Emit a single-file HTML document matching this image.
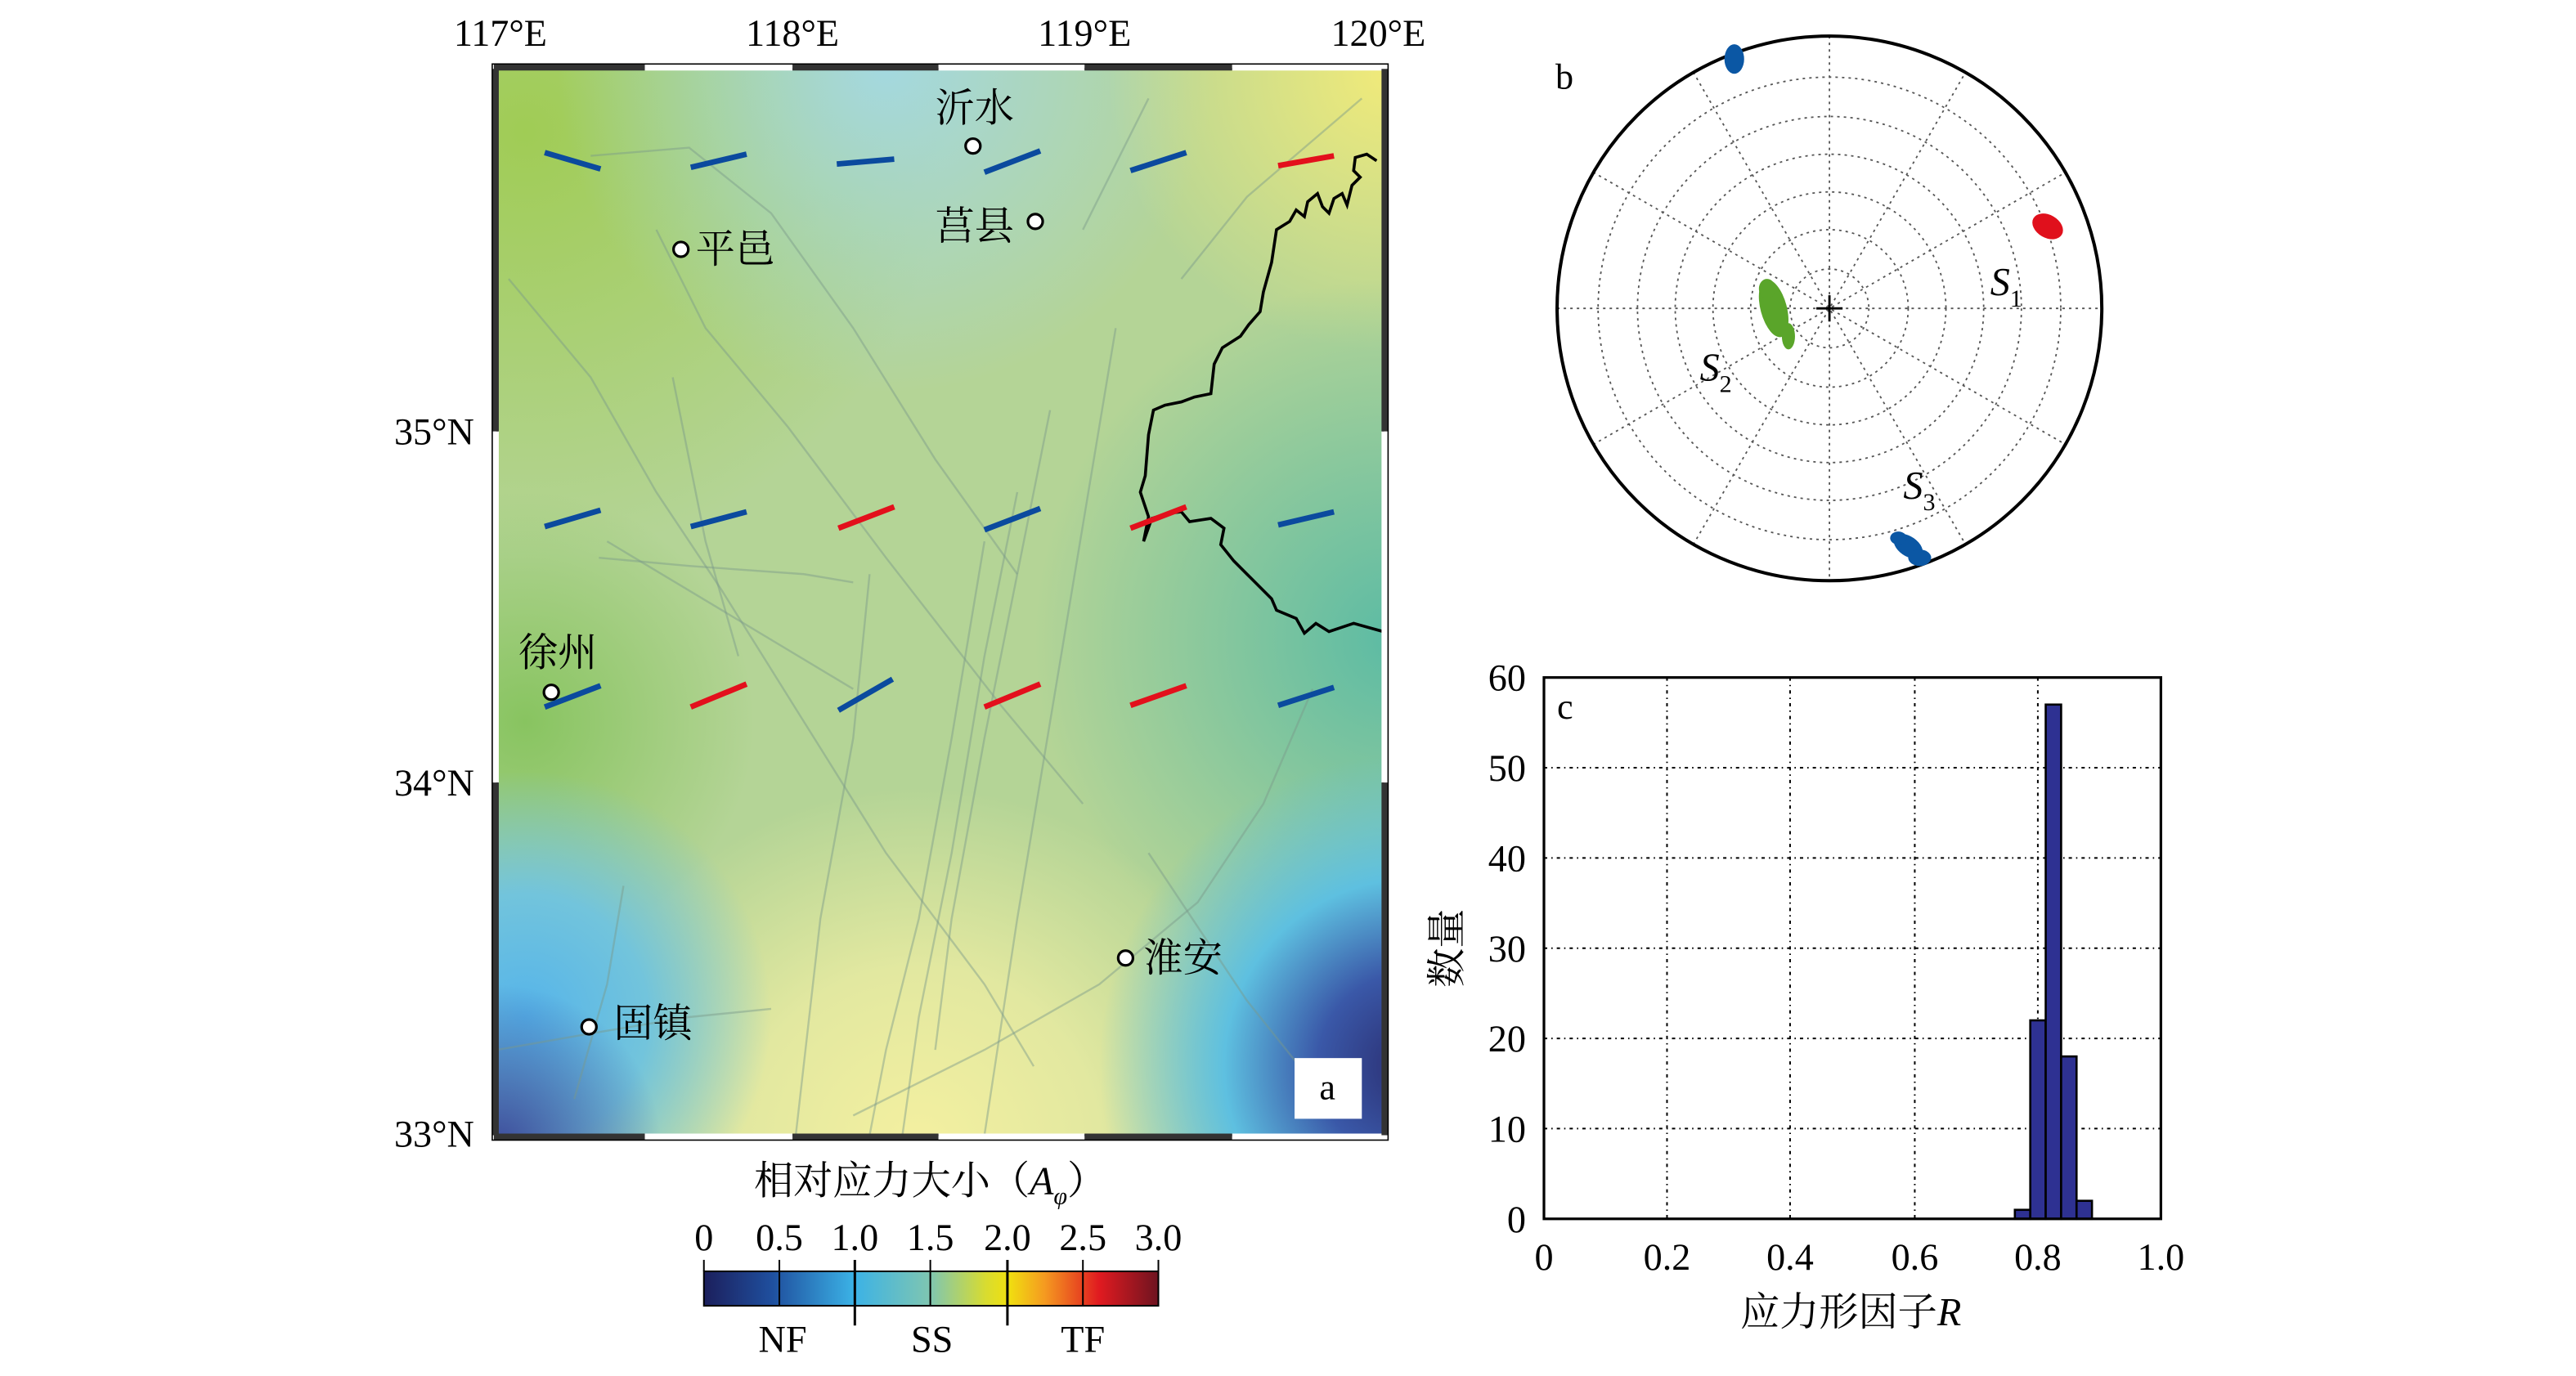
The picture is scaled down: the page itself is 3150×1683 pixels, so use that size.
<!DOCTYPE html>
<html><head><meta charset="utf-8"><style>
html,body{margin:0;padding:0;background:#fff;}
svg{display:block;}
text{font-family:"Liberation Serif","Noto Serif CJK SC","Noto Sans CJK SC",serif;fill:#000;}
</style></head><body>
<svg width="3150" height="1683" viewBox="0 0 1570 838.8" preserveAspectRatio="none" xmlns="http://www.w3.org/2000/svg">
<defs>
<clipPath id="mc"><rect x="303" y="42" width="540" height="650"/></clipPath>
<radialGradient id="g1" cx="320" cy="80" r="260" gradientUnits="userSpaceOnUse"><stop offset="0" stop-color="#a0cc55"/><stop offset="1" stop-color="#a0cc55" stop-opacity="0"/></radialGradient>
<radialGradient id="g2" cx="540" cy="40" r="200" gradientUnits="userSpaceOnUse"><stop offset="0" stop-color="#a4d8e0"/><stop offset="1" stop-color="#a4d8e0" stop-opacity="0"/></radialGradient>
<radialGradient id="g3" cx="845" cy="45" r="170" gradientUnits="userSpaceOnUse"><stop offset="0" stop-color="#f0ea7a"/><stop offset="1" stop-color="#f0ea7a" stop-opacity="0"/></radialGradient>
<radialGradient id="g4" cx="850" cy="390" r="220" gradientUnits="userSpaceOnUse"><stop offset="0" stop-color="#5cbba4"/><stop offset="1" stop-color="#5cbba4" stop-opacity="0"/></radialGradient>
<radialGradient id="g5" cx="860" cy="650" r="190" gradientUnits="userSpaceOnUse"><stop offset="0" stop-color="#2a2d70"/><stop offset="0.3" stop-color="#3a58a8"/><stop offset="0.6" stop-color="#5ec0e0"/><stop offset="1" stop-color="#5ec0e0" stop-opacity="0"/></radialGradient>
<radialGradient id="g6" cx="320" cy="620" r="150" gradientUnits="userSpaceOnUse"><stop offset="0" stop-color="#55b4ea"/><stop offset="0.5" stop-color="#72c4dc"/><stop offset="1" stop-color="#72c4dc" stop-opacity="0"/></radialGradient>
<radialGradient id="g7" cx="560" cy="700" r="220" gradientUnits="userSpaceOnUse"><stop offset="0" stop-color="#f4f0a0"/><stop offset="0.5" stop-color="#e2e8a0"/><stop offset="1" stop-color="#e2e8a0" stop-opacity="0"/></radialGradient>
<radialGradient id="g8" cx="303" cy="700" r="100" gradientUnits="userSpaceOnUse"><stop offset="0" stop-color="#3c4a9a"/><stop offset="1" stop-color="#3c4a9a" stop-opacity="0"/></radialGradient>
<radialGradient id="g9" cx="320" cy="440" r="140" gradientUnits="userSpaceOnUse"><stop offset="0" stop-color="#88c460"/><stop offset="1" stop-color="#88c460" stop-opacity="0"/></radialGradient>
<linearGradient id="cb" x1="0" x2="1"><stop offset="0" stop-color="#1c1f5c"/><stop offset="0.15" stop-color="#1f4f9e"/><stop offset="0.33" stop-color="#3bb2e6"/><stop offset="0.5" stop-color="#80c6b0"/><stop offset="0.62" stop-color="#d8dc30"/><stop offset="0.67" stop-color="#f0e010"/><stop offset="0.75" stop-color="#f59a20"/><stop offset="0.87" stop-color="#e01a20"/><stop offset="1" stop-color="#6e1420"/></linearGradient>
</defs>

<g clip-path="url(#mc)">
<rect x="303" y="42" width="540" height="650" fill="#b4d496"/>
<rect x="303" y="42" width="540" height="650" fill="url(#g1)"/>
<rect x="303" y="42" width="540" height="650" fill="url(#g9)"/>
<rect x="303" y="42" width="540" height="650" fill="url(#g2)"/>
<rect x="303" y="42" width="540" height="650" fill="url(#g3)"/>
<rect x="303" y="42" width="540" height="650" fill="url(#g4)"/>
<rect x="303" y="42" width="540" height="650" fill="url(#g7)"/>
<rect x="303" y="42" width="540" height="650" fill="url(#g6)"/>
<rect x="303" y="42" width="540" height="650" fill="url(#g5)"/>
<rect x="303" y="42" width="540" height="650" fill="url(#g8)"/>
<g stroke="#7a9a8a" stroke-opacity="0.45" stroke-width="1.2" fill="none">
<path d="M360 95 L420 90 L470 130 L520 200 L570 280 L620 350"/>
<path d="M400 140 L430 200 L480 260 L540 340 L610 430 L660 490"/>
<path d="M310 170 L360 230 L400 300 L440 360 L490 440 L540 520 L600 600 L630 650"/>
<path d="M600 330 L580 450 L560 560 L540 640 L530 692"/>
<path d="M620 300 L600 400 L580 520 L560 620 L550 692"/>
<path d="M640 250 L620 350 L600 450 L580 560 L570 640"/>
<path d="M680 200 L660 320 L640 440 L620 560 L600 692"/>
<path d="M530 350 L520 450 L500 560 L485 692"/>
<path d="M410 230 L430 330 L450 400"/>
<path d="M370 330 L420 360 L470 390 L520 420"/>
<path d="M365 340 L420 345 L490 350 L520 355"/>
<path d="M800 420 L770 490 L730 550 L670 600 L600 640 L520 680"/>
<path d="M303 640 L360 630 L420 620 L470 615"/>
<path d="M700 520 L760 610 L800 660"/>
<path d="M380 540 L370 600 L350 670"/>
<path d="M700 60 L680 100 L660 140"/>
<path d="M830 60 L760 120 L720 170"/>
</g>
<path d="M839 98 L833 94 L826 96 L825 104 L829 108 L824 113 L821 125 L818 118 L813 121 L810 130 L806 126 L803 118 L797 123 L795 132 L790 128 L786 135 L778 140 L775 160 L770 178 L768 190 L761 198 L756 205 L745 212 L740 222 L738 240 L728 242 L720 245 L710 247 L703 250 L700 265 L698 290 L695 300 L700 315 L697 330 L702 316 L712 313 L720 312 L725 318 L738 316 L746 322 L744 332 L752 342 L762 352 L775 365 L778 372 L790 377 L795 386 L802 380 L810 385 L825 380 L843 385" fill="none" stroke="#000" stroke-width="1.8"/>
</g>
<g stroke-width="3.4" stroke-linecap="butt">
<line x1="332" y1="93" x2="366" y2="103" stroke="#0b4a9e"/>
<line x1="421" y1="102" x2="455" y2="94" stroke="#0b4a9e"/>
<line x1="510" y1="100" x2="545" y2="97" stroke="#0b4a9e"/>
<line x1="600" y1="105" x2="634" y2="92" stroke="#0b4a9e"/>
<line x1="689" y1="104" x2="723" y2="93" stroke="#0b4a9e"/>
<line x1="779" y1="101" x2="813" y2="95" stroke="#e3101c"/>
<line x1="332" y1="321" x2="366" y2="311" stroke="#0b4a9e"/>
<line x1="421" y1="321" x2="455" y2="312" stroke="#0b4a9e"/>
<line x1="511" y1="322" x2="545" y2="309" stroke="#e3101c"/>
<line x1="600" y1="323" x2="634" y2="310" stroke="#0b4a9e"/>
<line x1="689" y1="322" x2="723" y2="309" stroke="#e3101c"/>
<line x1="779" y1="320" x2="813" y2="312" stroke="#0b4a9e"/>
<line x1="332" y1="431" x2="366" y2="418" stroke="#0b4a9e"/>
<line x1="421" y1="431" x2="455" y2="417" stroke="#e3101c"/>
<line x1="511" y1="433" x2="544" y2="414" stroke="#0b4a9e"/>
<line x1="600" y1="431" x2="634" y2="417" stroke="#e3101c"/>
<line x1="689" y1="430" x2="723" y2="418" stroke="#e3101c"/>
<line x1="779" y1="430" x2="813" y2="419" stroke="#0b4a9e"/>
</g>
<g fill="#fff" stroke="#000" stroke-width="1.6">
<circle cx="593" cy="89" r="4.5"/><circle cx="631" cy="135" r="4.5"/><circle cx="415" cy="152" r="4.5"/>
<circle cx="336" cy="422" r="4.5"/><circle cx="686" cy="584" r="4.5"/><circle cx="359" cy="626" r="4.5"/>
</g>
<g font-size="24">
<text x="570" y="74">沂水</text><text x="570" y="146">莒县</text><text x="424" y="160">平邑</text>
<text x="316" y="406">徐州</text><text x="697" y="592">淮安</text><text x="374" y="632">固镇</text>
</g>
<rect x="789" y="645" width="41" height="37" fill="#fff"/>
<text x="809" y="670" font-size="22" text-anchor="middle">a</text>
<rect x="303" y="42" width="540" height="650" fill="none" stroke="#000" stroke-width="1"/>
<g stroke-width="4">
<line x1="301" y1="41" x2="393" y2="41" stroke="#333"/><line x1="393" y1="41" x2="483" y2="41" stroke="#fff"/><line x1="483" y1="41" x2="572" y2="41" stroke="#333"/><line x1="572" y1="41" x2="661" y2="41" stroke="#fff"/><line x1="661" y1="41" x2="751" y2="41" stroke="#333"/><line x1="751" y1="41" x2="845" y2="41" stroke="#fff"/>
<line x1="301" y1="693" x2="393" y2="693" stroke="#333"/><line x1="393" y1="693" x2="483" y2="693" stroke="#fff"/><line x1="483" y1="693" x2="572" y2="693" stroke="#333"/><line x1="572" y1="693" x2="661" y2="693" stroke="#fff"/><line x1="661" y1="693" x2="751" y2="693" stroke="#333"/><line x1="751" y1="693" x2="845" y2="693" stroke="#fff"/>
<line x1="302" y1="42" x2="302" y2="263" stroke="#333"/><line x1="302" y1="263" x2="302" y2="477" stroke="#fff"/><line x1="302" y1="477" x2="302" y2="692" stroke="#333"/>
<line x1="844" y1="42" x2="844" y2="263" stroke="#333"/><line x1="844" y1="263" x2="844" y2="477" stroke="#fff"/><line x1="844" y1="477" x2="844" y2="692" stroke="#333"/>
</g>
<rect x="300" y="39" width="546" height="656" fill="none" stroke="#000" stroke-width="0.8"/>
<g font-size="23">
<text x="305" y="28" text-anchor="middle">117°E</text><text x="483" y="28" text-anchor="middle">118°E</text><text x="661" y="28" text-anchor="middle">119°E</text><text x="840" y="28" text-anchor="middle">120°E</text>
<text x="289" y="271" text-anchor="end">35°N</text><text x="289" y="485" text-anchor="end">34°N</text><text x="289" y="699" text-anchor="end">33°N</text>
</g>
<text x="567" y="728" font-size="24" text-anchor="middle">相对应力大小（<tspan font-style="italic">A</tspan><tspan font-size="15" dy="6" font-style="italic">φ</tspan><tspan dy="-6">）</tspan></text>
<g font-size="23" text-anchor="middle">
<text x="429" y="762">0</text><text x="475" y="762">0.5</text><text x="521" y="762">1.0</text><text x="567" y="762">1.5</text><text x="614" y="762">2.0</text><text x="660" y="762">2.5</text><text x="706" y="762">3.0</text>
</g>
<rect x="429" y="775" width="277" height="21" fill="url(#cb)" stroke="#000" stroke-width="1"/>
<g stroke="#000" stroke-width="1">
<line x1="429" y1="768" x2="429" y2="775"/><line x1="475" y1="768" x2="475" y2="796"/><line x1="567" y1="768" x2="567" y2="796"/><line x1="660" y1="768" x2="660" y2="796"/><line x1="706" y1="768" x2="706" y2="775"/>
<line x1="521" y1="768" x2="521" y2="808" stroke-width="1.5"/><line x1="614" y1="768" x2="614" y2="808" stroke-width="1.5"/>
</g>
<g font-size="23" text-anchor="middle"><text x="477" y="824">NF</text><text x="568" y="824">SS</text><text x="660" y="824">TF</text></g>

<g fill="none" stroke="#555" stroke-width="0.9" stroke-dasharray="1.5 2.5">
<circle cx="1115" cy="188" r="24"/><circle cx="1115" cy="188" r="48"/><circle cx="1115" cy="188" r="71"/><circle cx="1115" cy="188" r="94"/><circle cx="1115" cy="188" r="117"/><circle cx="1115" cy="188" r="141"/>
<line x1="949" y1="188" x2="1281" y2="188"/><line x1="1115" y1="22" x2="1115" y2="354"/>
<line x1="971" y1="105" x2="1259" y2="271"/><line x1="971" y1="271" x2="1259" y2="105"/>
<line x1="1032" y1="44" x2="1198" y2="332"/><line x1="1032" y1="332" x2="1198" y2="44"/>
</g>
<circle cx="1115" cy="188" r="166" fill="none" stroke="#000" stroke-width="2"/>
<path d="M1107 188 H1123 M1115 180 V196" stroke="#000" stroke-width="1.4"/>
<g fill="#0b57a4">
<ellipse cx="1057" cy="36" rx="6" ry="9"/>
<ellipse cx="1163" cy="333" rx="10" ry="6" transform="rotate(35 1163 333)"/><ellipse cx="1170" cy="340" rx="7" ry="5"/><ellipse cx="1157" cy="328" rx="5" ry="4"/>
</g>
<g fill="#e0101c"><ellipse cx="1248" cy="138" rx="10" ry="7" transform="rotate(30 1248 138)"/></g>
<g fill="#5aa52a"><ellipse cx="1081" cy="188" rx="8" ry="18" transform="rotate(-15 1081 188)"/><ellipse cx="1090" cy="205" rx="4" ry="8"/><ellipse cx="1077" cy="176" rx="5" ry="6"/></g>
<text x="948" y="54" font-size="22">b</text>
<g font-size="24" font-style="italic">
<text x="1213" y="180">S<tspan font-size="15" dy="7" font-style="normal">1</tspan></text>
<text x="1036" y="232">S<tspan font-size="15" dy="7" font-style="normal">2</tspan></text>
<text x="1160" y="304">S<tspan font-size="15" dy="7" font-style="normal">3</tspan></text>
</g>

<g stroke="#000" stroke-width="1" stroke-dasharray="2 2.5 0.8 2.5" fill="none">
<line x1="1016" y1="413" x2="1016" y2="743"/><line x1="1091" y1="413" x2="1091" y2="743"/><line x1="1167" y1="413" x2="1167" y2="743"/><line x1="1242" y1="413" x2="1242" y2="743"/>
<line x1="941" y1="468" x2="1317" y2="468"/><line x1="941" y1="523" x2="1317" y2="523"/><line x1="941" y1="578" x2="1317" y2="578"/><line x1="941" y1="633" x2="1317" y2="633"/><line x1="941" y1="688" x2="1317" y2="688"/>
</g>
<g fill="#2e3192" stroke="#000" stroke-width="1.3">
<rect x="1228" y="737.5" width="9.4" height="5.5"/>
<rect x="1237.4" y="622" width="9.4" height="121"/>
<rect x="1246.8" y="429.5" width="9.4" height="313.5"/>
<rect x="1256.2" y="644" width="9.4" height="99"/>
<rect x="1265.6" y="732" width="9.4" height="11"/>
</g>
<rect x="941" y="413" width="376" height="330" fill="none" stroke="#000" stroke-width="1.6"/>
<text x="949" y="438" font-size="22">c</text>
<g font-size="23" text-anchor="end">
<text x="930" y="421">60</text><text x="930" y="476">50</text><text x="930" y="531">40</text><text x="930" y="586">30</text><text x="930" y="641">20</text><text x="930" y="696">10</text><text x="930" y="751">0</text>
</g>
<g font-size="23" text-anchor="middle">
<text x="941" y="774">0</text><text x="1016" y="774">0.2</text><text x="1091" y="774">0.4</text><text x="1167" y="774">0.6</text><text x="1242" y="774">0.8</text><text x="1317" y="774">1.0</text>
</g>
<text x="1128" y="808" font-size="24" text-anchor="middle">应力形因子<tspan font-style="italic">R</tspan></text>
<text transform="translate(890 578) rotate(-90)" font-size="24" text-anchor="middle">数量</text>
</svg>
</body></html>
